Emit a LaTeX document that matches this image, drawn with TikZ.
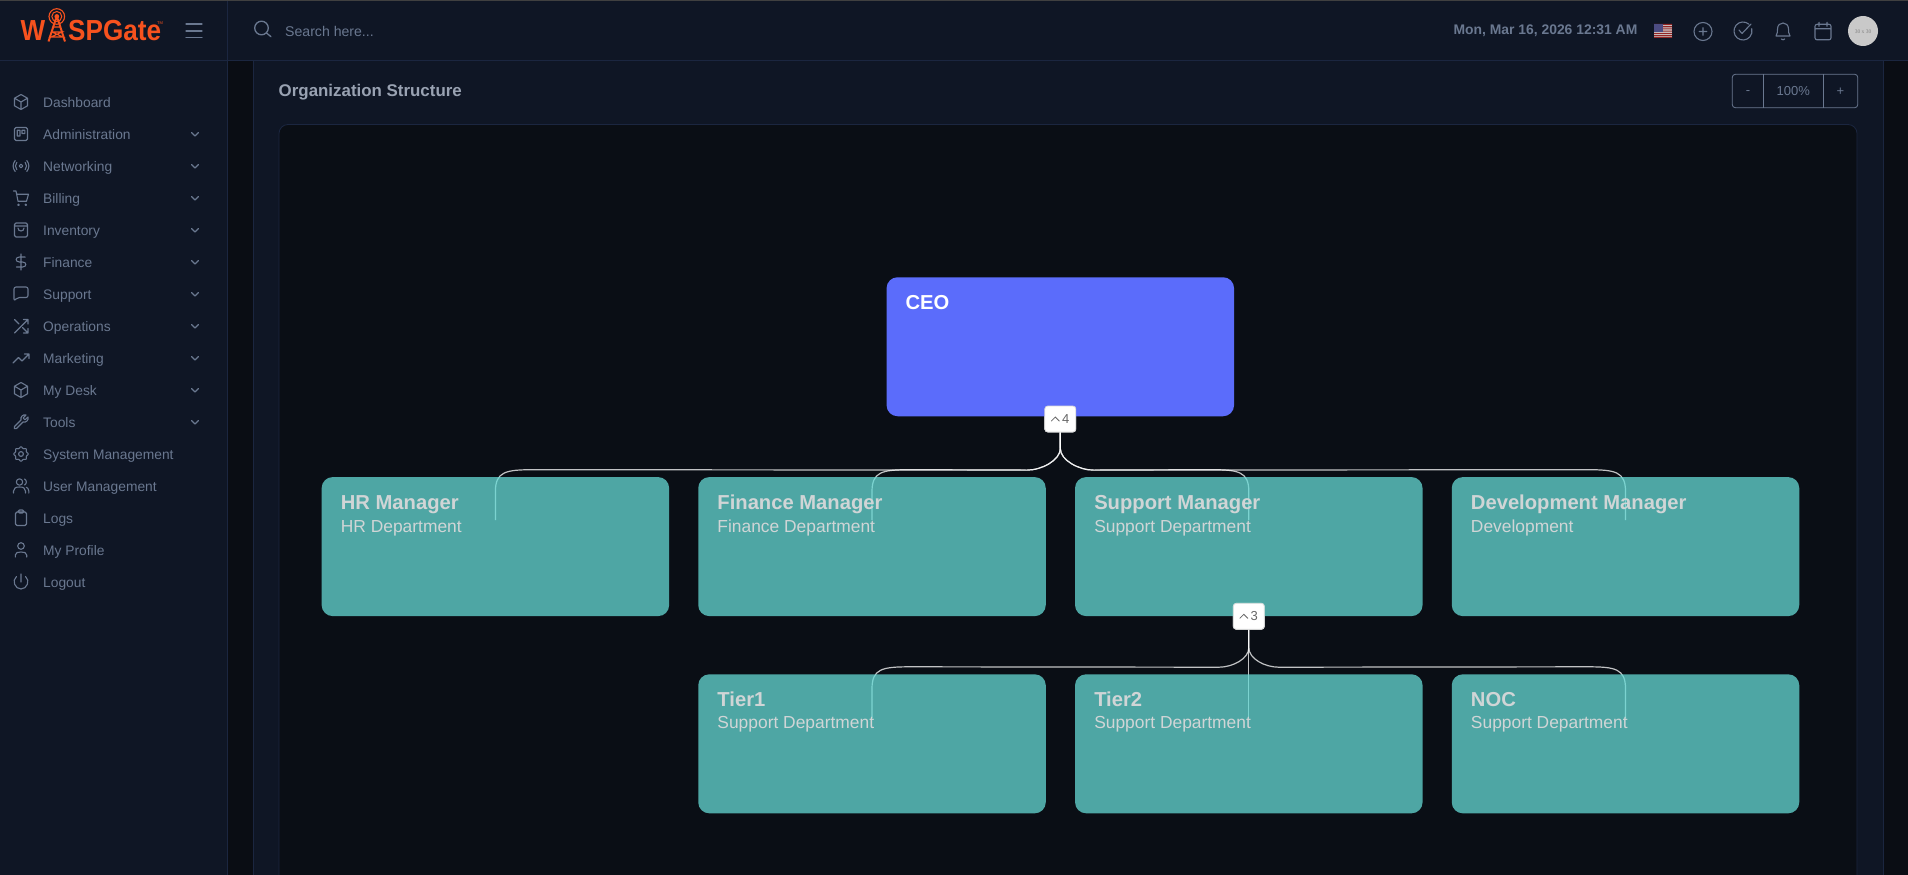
\documentclass[tikz,border=0pt]{standalone}
\usepackage{fontspec}
\usetikzlibrary{calc}
\setmainfont{Liberation Sans}
\newfontfamily\avatarfont{Liberation Serif}

\definecolor{panelbg}{HTML}{0F1625}
\definecolor{gapbg}{HTML}{0A0D14}
\definecolor{canvasbg}{HTML}{0A0E15}
\definecolor{panelline}{HTML}{1B2640}
\definecolor{navtext}{HTML}{6A7890}
\definecolor{titletext}{HTML}{99A2B2}
\definecolor{logoorange}{HTML}{F7521E}
\definecolor{cardteal}{HTML}{65DAD5}
\definecolor{cardtext}{HTML}{D0D5D6}
\definecolor{ceoblue}{HTML}{5B6CFB}

\tikzset{
	navitem/.style = {anchor = base west, inner sep = 0, text = navtext, font = \fontsize{13.8}{16}\selectfont},
	navicon/.style = {draw = navtext, line width = 1.1, line cap = round, line join = round},
	orgcard/.style = {draw = none, fill = cardteal, fill opacity = 0.75, rounded corners = 11, minimum width = 347.5, minimum height = 139},
	cardtitle/.style = {anchor = base west, inner sep = 0, text = cardtext, font = \fontsize{20.2}{24}\selectfont\bfseries},
	cardsub/.style = {anchor = base west, inner sep = 0, text = cardtext, font = \fontsize{17.4}{20}\selectfont},
	orglink/.style = {draw = white, draw opacity = 0.75, line width = 1.2},
	togglebtn/.style = {draw = black!15, fill = white, rounded corners = 3, line width = 0.8, minimum width = 31, minimum height = 26, inner sep = 0, text = black!60, font = \fontsize{13}{15}\selectfont},
	zoomtext/.style = {inner sep = 0, text = navtext, font = \fontsize{13}{15}\selectfont}
}

\begin{document}
\begin{tikzpicture}[x = 1pt, y = -1pt]
\clip (0, 0) rectangle (1908, 875);
\fill[color = gapbg] (0, 0) rectangle (1908, 875);

% sidebar, header, panel
\fill[color = panelbg] (0, 0) rectangle (227.5, 875);
\fill[color = panelbg] (0, 0) rectangle (1908, 60.5);
\fill[color = panelbg] (253, 60.5) rectangle (1883, 875);
\draw[panelline, line width = 0.8] (0, 60.5) -- (1908, 60.5);
\draw[panelline, line width = 0.8] (227.5, 0) -- (227.5, 875);
\draw[panelline, line width = 0.8] (253, 60.5) -- (253, 875);
\draw[panelline, line width = 0.8] (1883, 60.5) -- (1883, 875);
\fill[color = black!75!white] (0, 0) rectangle (1908, 1);
\draw[fill = canvasbg, draw = panelline, line width = 0.8, rounded corners = 9] (279, 124.5) rectangle (1857, 900);

% logo
\node[anchor = base west, inner sep = 0, text = logoorange, font = \fontsize{29}{32}\selectfont\bfseries] (logow) at (20.5, 41) {\scalebox{0.9}[1]{W}};
\node[anchor = base west, inner sep = 0, text = logoorange, font = \fontsize{29}{32}\selectfont\bfseries] (logogate) at (68, 41) {\scalebox{0.9}[1]{SPGate}};
\node[anchor = base west, inner sep = 0, text = logoorange, font = \fontsize{4}{5}\selectfont] (logotm) at (157, 24.5) {TM};
\draw[logoorange, line width = 1.1] (56.8, 16.5) circle (7.8);
\draw[logoorange, line width = 1] (56.8, 16.5) circle (5);
\fill[logoorange] (56.8, 16.5) circle (2.4);
\draw[logoorange, line width = 2, line join = round] 
	(48.5, 41.5) -- (55.8, 19) -- (57.8, 19) -- (65, 41.5);
\draw[logoorange, line width = 1.1] 
	(53.5, 27) -- (60.5, 27) 
	(52, 32) -- (62, 32) -- (51, 37) -- (63, 37) -- (52, 32);

% hamburger and search
\draw[navicon, line width = 1.3] 
	(186, 24) -- (202, 24) 
	(186, 31) -- (202, 31) 
	(186, 37.7) -- (202, 37.7);
\draw[navicon, line width = 1.3] (261.5, 28) circle (6.8);
\draw[navicon, line width = 1.3] (266.5, 33) -- (271, 36.7);
\node[navitem, font = \fontsize{14.1}{16}\selectfont] (search) at (285, 37) {Search here...};

% header right
\node[anchor = base west, inner sep = 0, text = navtext, font = \fontsize{13.9}{16}\selectfont\bfseries] (clock) at (1453.3, 35) {Mon, Mar 16, 2026 12:31 AM};
\fill[color = black!18] (1654, 24) rectangle (1672, 38);
\fill[color = red!50!black!85!white] 
	(1654, 24) rectangle (1672, 25.1) 
	(1654, 26.2) rectangle (1672, 27.3) 
	(1654, 28.4) rectangle (1672, 29.5) 
	(1654, 30.6) rectangle (1672, 31.7) 
	(1654, 32.8) rectangle (1672, 33.9) 
	(1654, 35) rectangle (1672, 36.1) 
	(1654, 37) rectangle (1672, 38);
\fill[color = blue!30!black!70!white] (1654, 24) rectangle (1663, 31.7);
\draw[navicon, shift = {(1703, 31.5)}] 
	(0, 0) circle (9) 
	(-3.8, 0) -- (3.8, 0) 
	(0, -3.8) -- (0, 3.8);
\draw[navicon, shift = {(1743, 31)}] 
	(-50:9) arc (-50:-375:9) 
	(-4, -1) -- (-1, 2.5) -- (8, -7);
\draw[navicon, shift = {(1783, 31)}] 
	(-7, 5) .. controls (-5.5, 3) and (-5.5, 0) .. 
	(-5.5, -2) .. controls (-5.5, -10) and (5.5, -10) .. 
	(5.5, -2) .. controls (5.5, 0) and (5.5, 3) .. 
	(7, 5) -- cycle 
	(-1.7, 8) .. controls (-1, 9) and (1, 9) .. (1.7, 8);
\draw[navicon, shift = {(1823, 31.3)}] 
	[rounded corners = 2] (-8, -7) rectangle (8, 8.5) 
	[sharp corners] (-8, -2.5) -- (8, -2.5) 
	(-4, -9) -- (-4, -5) 
	(4, -9) -- (4, -5);
\fill[color = black!21] (1863, 31) circle (15);
\node[inner sep = 0, text = black!50, font = \fontsize{5.5}{6}\selectfont\avatarfont] (avatar) at (1863, 31.5) {30 x 30};

% title and zoom buttons
\node[anchor = base west, inner sep = 0, text = titletext, font = \fontsize{16.9}{20}\selectfont\bfseries] (orgtitle) at (278.5, 96) {Organization Structure};
\draw[navtext, line width = 0.8, rounded corners = 3] (1732.3, 74.3) rectangle (1857.7, 107.7);
\draw[navtext, line width = 0.8] (1763.3, 74.3) -- (1763.3, 107.7);
\draw[navtext, line width = 0.8] (1823.3, 74.3) -- (1823.3, 107.7);
\node[zoomtext] (zoomminus) at (1748, 92.5) {-};
\node[zoomtext] (zoomvalue) at (1793.3, 91) {100\%};
\node[zoomtext] (zoomplus) at (1840.5, 91.5) {+};

% sidebar entries
\node[navitem] (navdashboard) at (43, 107.5) {Dashboard};
\node[navitem] (navadmin) at (43, 139.5) {Administration};
\node[navitem] (navnetworking) at (43, 171.5) {Networking};
\node[navitem] (navbilling) at (43, 203.5) {Billing};
\node[navitem] (navinventory) at (43, 235.5) {Inventory};
\node[navitem] (navfinance) at (43, 267.5) {Finance};
\node[navitem] (navsupport) at (43, 299.5) {Support};
\node[navitem] (navoperations) at (43, 331.5) {Operations};
\node[navitem] (navmarketing) at (43, 363.5) {Marketing};
\node[navitem] (navdesk) at (43, 395.5) {My Desk};
\node[navitem] (navtools) at (43, 427.5) {Tools};
\node[navitem] (navsystem) at (43, 459.5) {System Management};
\node[navitem] (navuser) at (43, 491.5) {User Management};
\node[navitem] (navlogs) at (43, 523.5) {Logs};
\node[navitem] (navprofile) at (43, 555.5) {My Profile};
\node[navitem] (navlogout) at (43, 587.5) {Logout};

% sidebar chevrons
\draw[navicon] 
	(191.5, 132.5) -- +(3.5, 3.5) -- +(7, 0) 
	(191.5, 164.5) -- +(3.5, 3.5) -- +(7, 0) 
	(191.5, 196.5) -- +(3.5, 3.5) -- +(7, 0) 
	(191.5, 228.5) -- +(3.5, 3.5) -- +(7, 0) 
	(191.5, 260.5) -- +(3.5, 3.5) -- +(7, 0) 
	(191.5, 292.5) -- +(3.5, 3.5) -- +(7, 0) 
	(191.5, 324.5) -- +(3.5, 3.5) -- +(7, 0) 
	(191.5, 356.5) -- +(3.5, 3.5) -- +(7, 0) 
	(191.5, 388.5) -- +(3.5, 3.5) -- +(7, 0) 
	(191.5, 420.5) -- +(3.5, 3.5) -- +(7, 0);

% sidebar icons
\draw[navicon, shift = {(21, 102)}] 
	(0, -7.5) -- (6.5, -3.8) -- (6.5, 3.8) -- (0, 7.5) -- (-6.5, 3.8) -- (-6.5, -3.8) -- cycle 
	(-6.5, -3.8) -- (0, 0) -- (6.5, -3.8) 
	(0, 0) -- (0, 7.5);
\draw[navicon, shift = {(21, 134)}] 
	[rounded corners = 1.5] (-6.5, -6.5) rectangle (6.5, 6.5) 
	[sharp corners] (-3.8, -3.8) rectangle (-1, 2) 
	(1, -3.8) rectangle (3.8, -0.5);
\draw[navicon, shift = {(21, 166)}] 
	(0, 0) circle (1.8) 
	(-4.2, -3.6) .. controls (-6, -1.5) and (-6, 1.5) .. (-4.2, 3.6) 
	(4.2, -3.6) .. controls (6, -1.5) and (6, 1.5) .. (4.2, 3.6) 
	(-5.8, -5.5) .. controls (-8.6, -2) and (-8.6, 2) .. (-5.8, 5.5) 
	(5.8, -5.5) .. controls (8.6, -2) and (8.6, 2) .. (5.8, 5.5);
\draw[navicon, shift = {(21, 198)}] 
	(-7.5, -7) -- (-5, -7) -- (-3, 3.2) -- (5.5, 3.2) -- (7.5, -3.8) -- (-4.3, -3.8) 
	(-2.5, 6.8) circle (0.7) 
	(4.8, 6.8) circle (0.7);
\draw[navicon, shift = {(21, 230)}] 
	[rounded corners = 1.5] (-6.5, -7) rectangle (6.5, 7) 
	[sharp corners] (-6.5, -4) -- (6.5, -4) 
	(-3, -2) .. controls (-3, 2) and (3, 2) .. (3, -2);
\draw[navicon, shift = {(21, 262)}] 
	(0, -8) -- (0, 8) 
	(4.2, -5) -- (-1.5, -5) .. controls (-6, -5) and (-6, 0) .. (-1.5, 0) -- (1.5, 0) .. controls (6, 0) and (6, 5) .. (1.5, 5) -- (-4.5, 5);
\draw[navicon, rounded corners = 2, shift = {(21, 294)}] 
	(-7, -7) -- (7, -7) -- (7, 3.5) -- (-3.5, 3.5) -- (-7, 7) -- cycle;
\draw[navicon, shift = {(21, 326)}] 
	(2.5, -6.5) -- (7, -6.5) -- (7, -2) 
	(7, -6.5) -- (-6.5, 7) 
	(7, 2.5) -- (7, 7) -- (2.5, 7) 
	(1.5, 1.5) -- (7, 7) 
	(-6.5, -6.5) -- (-2, -2);
\draw[navicon, shift = {(21, 358)}] 
	(-8, 5) -- (-2.5, -0.5) -- (1, 3) -- (8, -4) 
	(3.5, -4) -- (8, -4) -- (8, 0.5);
\draw[navicon, shift = {(21, 390)}] 
	(0, -7.5) -- (6.5, -3.8) -- (6.5, 3.8) -- (0, 7.5) -- (-6.5, 3.8) -- (-6.5, -3.8) -- cycle 
	(-6.5, -3.8) -- (0, 0) -- (6.5, -3.8) 
	(0, 0) -- (0, 7.5);
\draw[navicon, shift = {(21, 422)}] 
	(5, -7) .. controls (2, -8) and (-1, -5) .. 
	(0, -2) -- (-6.5, 4.5) .. controls (-8, 6) and (-6, 8) .. 
	(-4.5, 6.5) -- (2, 0) .. controls (5, 1) and (8, -2) .. 
	(7, -5) -- (4, -2.2) -- (2.2, -4) -- cycle;
\draw[navicon, rounded corners = 0.8, shift = {(21, 454)}] 
	(0:7.8) -- (22:5.6) -- (45:7.8) -- (68:5.6) -- (90:7.8) -- (112:5.6) -- (135:7.8) -- (158:5.6) -- 
	(180:7.8) -- (202:5.6) -- (225:7.8) -- (248:5.6) -- (270:7.8) -- (292:5.6) -- (315:7.8) -- (338:5.6) -- cycle;
\draw[navicon, shift = {(21, 454)}] (0, 0) circle (2.4);
\draw[navicon, shift = {(21, 486)}] 
	(-1.5, -4) circle (3.2) 
	(-7.5, 7) -- (-7.5, 5) .. controls (-7.5, 2) and (-5, 1) .. (-1.5, 1) .. controls (2, 1) and (4.5, 2) .. (4.5, 5) -- (4.5, 7) 
	(3.5, -7) .. controls (6, -6) and (6, -2) .. (3.5, -1) 
	(7.8, 7) -- (7.8, 5) .. controls (7.8, 3) and (6.5, 1.5) .. (5.3, 1.3);
\draw[navicon, shift = {(21, 518)}] 
	[rounded corners = 1.5] (-5.5, -6) rectangle (5.5, 7.5) 
	(-3, -8) rectangle (3, -5);
\draw[navicon, shift = {(21, 550)}] 
	(0, -4) circle (3.3) 
	(-5.7, 7) -- (-5.7, 5) .. controls (-5.7, 2.5) and (-3, 2) .. (0, 2) .. controls (3, 2) and (5.7, 2.5) .. (5.7, 5) -- (5.7, 7);
\draw[navicon, shift = {(21, 582)}] 
	(0, -8) -- (0, 0) 
	(4.5, -5.5) .. controls (9.5, -1.5) and (6, 7) .. (0, 7) .. controls (-6, 7) and (-9.5, -1.5) .. (-4.5, -5.5);

% buttons and bus heights
\node[togglebtn] (btnfour) at (1060.3, 419) {\hspace*{11pt}4};
\node[togglebtn] (btnthree) at (1248.8, 616.3) {\hspace*{11pt}3};
\coordinate (busfour) at (0, 469.7);
\coordinate (busthree) at (0, 666.8);
\coordinate (hrend) at (495.4, 520);
\coordinate (financeend) at (872, 520);
\coordinate (supportend) at (1248.8, 520);
\coordinate (developmentend) at (1625.5, 520);
\coordinate (tieroneend) at (872, 718);
\coordinate (tiertwoend) at (1248.8, 718);
\coordinate (nocend) at (1625.5, 718);

% links run under the cards
\draw[orglink] (btnfour.south) -- ++(0, 16) .. controls +(0, 12) and +(14, 0) .. ++(-33, 21.7) -- 
	($(hrend |- busfour) + (38, 0)$) .. controls +(-28, 0) and +(0, -20) .. 
	($(hrend |- busfour) + (0, 22)$) -- (hrend);
\draw[orglink] (btnfour.south) -- ++(0, 16) .. controls +(0, 12) and +(14, 0) .. ++(-33, 21.7) -- 
	($(financeend |- busfour) + (38, 0)$) .. controls +(-28, 0) and +(0, -20) .. 
	($(financeend |- busfour) + (0, 22)$) -- (financeend);
\draw[orglink] (btnfour.south) -- ++(0, 16) .. controls +(0, 12) and +(-14, 0) .. ++(33, 21.7) -- 
	($(supportend |- busfour) + (-38, 0)$) .. controls +(28, 0) and +(0, -20) .. 
	($(supportend |- busfour) + (0, 22)$) -- (supportend);
\draw[orglink] (btnfour.south) -- ++(0, 16) .. controls +(0, 12) and +(-14, 0) .. ++(33, 21.7) -- 
	($(developmentend |- busfour) + (-38, 0)$) .. controls +(28, 0) and +(0, -20) .. 
	($(developmentend |- busfour) + (0, 22)$) -- (developmentend);
\draw[orglink] (btnthree.south) -- ++(0, 18) .. controls +(0, 11) and +(14, 0) .. ++(-30, 19.5) -- 
	($(tieroneend |- busthree) + (38, 0)$) .. controls +(-28, 0) and +(0, -20) .. 
	($(tieroneend |- busthree) + (0, 22)$) -- (tieroneend);
\draw[orglink] (btnthree.south) -- (tiertwoend);
\draw[orglink] (btnthree.south) -- ++(0, 18) .. controls +(0, 11) and +(-14, 0) .. ++(30, 19.5) -- 
	($(nocend |- busthree) + (-38, 0)$) .. controls +(28, 0) and +(0, -20) .. 
	($(nocend |- busthree) + (0, 22)$) -- (nocend);

% cards
\node[orgcard, fill = ceoblue, fill opacity = 1] (ceo) at (1060.3, 346.75) {};
\node[orgcard] (hr) at (495.4, 546.6) {};
\node[orgcard] (finance) at (872, 546.6) {};
\node[orgcard] (support) at (1248.8, 546.6) {};
\node[orgcard] (development) at (1625.5, 546.6) {};
\node[orgcard] (tierone) at (872, 743.8) {};
\node[orgcard] (tiertwo) at (1248.8, 743.8) {};
\node[orgcard] (noc) at (1625.5, 743.8) {};

% card texts
\node[cardtitle, text = white] (ceotitle) at ($(ceo.north west) + (19, 32.8)$) {CEO};
\node[cardtitle] (hrtitle) at ($(hr.north west) + (19.2, 33)$) {HR Manager};
\node[cardsub] (hrsub) at ($(hr.north west) + (19.2, 55.2)$) {HR Department};
\node[cardtitle] (financetitle) at ($(finance.north west) + (19.2, 33)$) {Finance Manager};
\node[cardsub] (financesub) at ($(finance.north west) + (19.2, 55.2)$) {Finance Department};
\node[cardtitle] (supporttitle) at ($(support.north west) + (19.2, 33)$) {Support Manager};
\node[cardsub] (supportsub) at ($(support.north west) + (19.2, 55.2)$) {Support Department};
\node[cardtitle] (developmenttitle) at ($(development.north west) + (19.2, 33)$) {Development Manager};
\node[cardsub] (developmentsub) at ($(development.north west) + (19.2, 55.2)$) {Development};
\node[cardtitle] (tieronetitle) at ($(tierone.north west) + (19.2, 32.2)$) {Tier1};
\node[cardsub] (tieronesub) at ($(tierone.north west) + (19.2, 54.8)$) {Support Department};
\node[cardtitle] (tiertwotitle) at ($(tiertwo.north west) + (19.2, 32.2)$) {Tier2};
\node[cardsub] (tiertwosub) at ($(tiertwo.north west) + (19.2, 54.8)$) {Support Department};
\node[cardtitle] (noctitle) at ($(noc.north west) + (19.2, 32.2)$) {NOC};
\node[cardsub] (nocsub) at ($(noc.north west) + (19.2, 54.8)$) {Support Department};

% buttons sit over the cards
\node[togglebtn] at (btnfour) {\hspace*{11pt}4};
\node[togglebtn] at (btnthree) {\hspace*{11pt}3};
\draw[black!60, line width = 0.8, line cap = round] 
	($(btnfour.center) + (-9, 2)$) -- +(4, -4) -- +(8, 0) 
	($(btnthree.center) + (-9, 2)$) -- +(4, -4) -- +(8, 0);
\end{tikzpicture}
\end{document}
